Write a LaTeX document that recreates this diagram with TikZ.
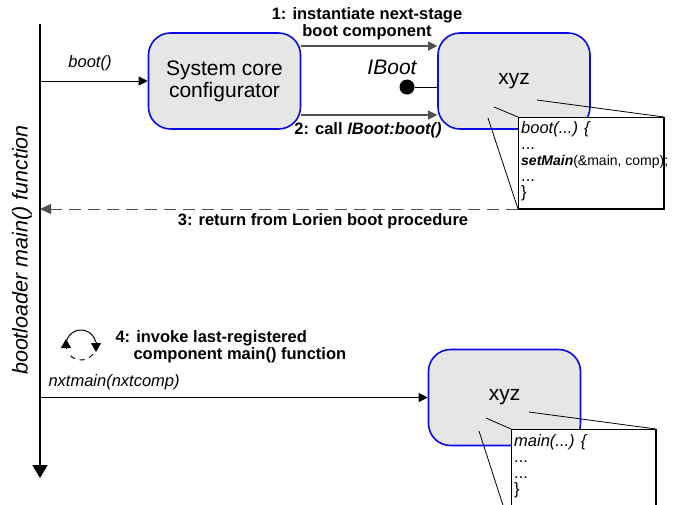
\documentclass[tikz,border=0pt]{standalone}
\usepackage{fontspec}
\setmainfont{Liberation Sans}
\usetikzlibrary{arrows.meta}
\definecolor{boxgray}{RGB}{230,230,230}
\definecolor{boxblue}{RGB}{10,10,230}
\definecolor{msggray}{RGB}{80,80,80}
\tikzset{
  comp/.style={draw=boxblue,line width=1.6pt,fill=boxgray,rounded corners=22pt,
    minimum width=152pt,minimum height=96pt,align=center,font=\fontsize{21}{22}\selectfont},
  callout/.style={draw,line width=1pt,fill=white,anchor=north west,inner sep=0pt},
  msg/.style={font=\fontsize{16.5}{17}\selectfont\bfseries,align=center},
  call/.style={font=\fontsize{16.5}{17}\selectfont\itshape},
  tip/.style={-{Triangle[length=9pt,width=9pt]}},
  zoomline/.style={line width=0.8pt}
}
\begin{document}
\begin{tikzpicture}[x=1pt,y=1pt]
    \useasboundingbox (0,0) rectangle (675,-504);
    \clip (0,0) rectangle (675,-504);

    % time line of the boot loader
    \coordinate (top) at (40,-24);
    \coordinate (bot) at (40,-478);
    \draw[line width=1.8pt,-{Triangle[length=13pt,width=15pt]}] (top) -- (bot);
    \node[rotate=90,font=\fontsize{21.5}{22}\selectfont\itshape] (lifeline) at (22,-250) {bootloader main() function};

    % components
    \node[comp] (sysconf) at (224.5,-81) {System core\\configurator};
    \node[comp] (xyz1) at (514,-81) {xyz};
    \node[comp] (xyz2) at (504.5,-397.5) {xyz};

    \draw[tip,line width=0.9pt] (top |- sysconf.west) -- (sysconf.west);
    \node[call] (bootlbl) at (90,-63) {boot()};

    \draw[tip,line width=1.4pt,msggray] ([yshift=35pt]sysconf.east) -- ([yshift=35pt]xyz1.west);
    \draw[tip,line width=1.4pt,msggray] ([yshift=-34pt]sysconf.east) -- ([yshift=-34pt]xyz1.west);
    \node[msg] (step1) at (367,-24) {1: instantiate next-stage\\boot component};
    \node[msg] (step2) at (368,-130) {2: call \textit{IBoot:boot()}};

    % IBoot interface
    \node[circle,fill,inner sep=0pt,minimum size=15pt] (iboot) at (407,-87) {};
    \draw[line width=1pt] (iboot) -- (iboot -| xyz1.west);
    \node[font=\fontsize{21}{22}\selectfont\itshape] (ibootlbl) at (392,-67) {IBoot};

    % code of xyz boot()
    \coordinate (z1a) at (537,-100);
    \coordinate (z1b) at (494,-107);
    \coordinate (z1c) at (488,-118);
    \node[callout,minimum width=145pt,minimum height=91pt] (code1) at (518,-117) {};
    \draw[zoomline] (z1a) -- (code1.north east);
    \draw[zoomline] (z1b) -- (code1.north west);
    \draw[zoomline] (z1c) -- (code1.south west);
    \draw[line width=1pt] (code1.north west) rectangle (code1.south east);
    \node[anchor=north west,align=left,inner sep=0pt,font=\fontsize{16.5}{16}\selectfont] (code1txt) at (521,-121)
      {\textit{boot(...) \{}\\...\\{\fontsize{14}{14}\selectfont\textbf{\textit{setMain}}(\&main, comp);}\\...\\\}};

    % return to the boot loader
    \draw[dashed,dash pattern=on 12pt off 7pt,line width=1pt,msggray,-{Triangle[length=11pt,width=10pt]}]
      (code1.south west) -- (top |- code1.south west);
    \node[msg] (step3) at (323,-221) {3: return from Lorien boot procedure};

    % loop icon
    \coordinate (loop) at (81,-345);
    \coordinate (loopl) at (66,-349);
    \coordinate (loopr) at (96,-342);
    \draw[line width=1pt] (loop) ++(165:15) arc (165:12:15);
    \draw[line width=1pt,dash pattern=on 5pt off 5pt] (loop) ++(-38:15) arc (-38:-142:15);
    \draw[line width=1pt,-{Triangle[length=9pt,width=10pt]}] (loopl) -- ++(0,10);
    \draw[line width=1pt,-{Triangle[length=9pt,width=10pt]}] (loopr) -- ++(0,-10);
    \node[msg,anchor=west,align=left] (step4) at (112,-347)
      {4: invoke last-registered\\\hspace*{18pt}component main() function};

    \draw[tip,line width=0.9pt] (top |- xyz2.west) -- (xyz2.west);
    \node[call,anchor=west] (nxtlbl) at (45,-382) {nxtmain(nxtcomp)};

    % code of xyz main()
    \coordinate (z2a) at (529,-412);
    \coordinate (z2b) at (486,-418);
    \coordinate (z2c) at (479,-431);
    \node[callout,minimum width=144pt,minimum height=100pt] (code2) at (511,-429) {};
    \draw[zoomline] (z2a) -- (code2.north east);
    \draw[zoomline] (z2b) -- (code2.north west);
    \draw[zoomline] (z2c) -- (code2.south west);
    \draw[line width=1pt] (code2.north west) rectangle (code2.south east);
    \node[anchor=north west,align=left,inner sep=0pt,font=\fontsize{16.5}{16}\selectfont] (code2txt) at (514,-434)
      {\textit{main(...) \{}\\...\\...\\\}};
\end{tikzpicture}
\end{document}
